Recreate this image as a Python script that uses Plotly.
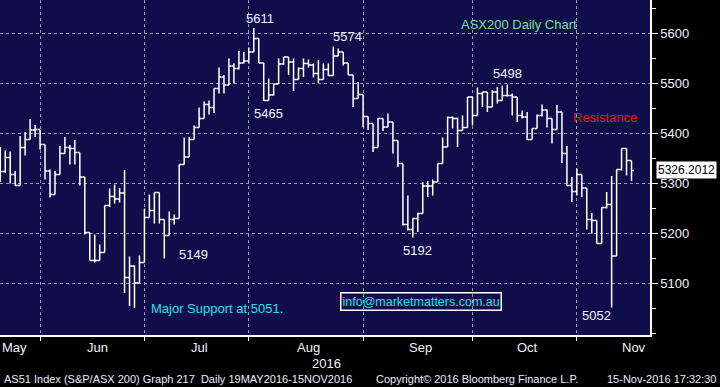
import pandas as pd
import plotly.graph_objects as go

# ---------------- data ----------------
holidays = ["2016-06-13"]
dates = [d for d in pd.bdate_range("2016-05-19", "2016-11-15") if d.strftime("%Y-%m-%d") not in holidays]

opens = [5330, 5324, 5352, 5318, 5296, 5372, 5388, 5407, 5408, 5378,
         5325, 5278, 5318, 5360, 5372, 5370, 5362, 5313, 5202, 5146,
         5146, 5162, 5256, 5274, 5269, 5281, 5112, 5135, 5101, 5142,
         5232, 5246, 5282, 5228, 5196, 5228, 5230, 5338, 5353, 5388,
         5412, 5430, 5458, 5452, 5490, 5513, 5497, 5535, 5530, 5541,
         5545, 5563, 5590, 5541, 5466, 5477, 5499, 5539, 5553, 5543,
         5508, 5530, 5540, 5537, 5520, 5508, 5528, 5516, 5555, 5563,
         5541, 5517, 5470, 5478, 5434, 5420, 5372, 5430, 5413, 5423,
         5386, 5340, 5218, 5208, 5230, 5240, 5295, 5295, 5303, 5340,
         5373, 5432, 5430, 5406, 5412, 5473, 5436, 5480, 5483, 5453,
         5483, 5466, 5476, 5476, 5473, 5436, 5433, 5388, 5410, 5436,
         5447, 5430, 5408, 5443, 5360, 5296, 5284, 5318, 5291, 5228,
         5226, 5180, 5252, 5258, 5155, 5328, 5370, 5346]
highs = [5373, 5366, 5364, 5325, 5395, 5403, 5429, 5417, 5408, 5378,
         5328, 5325, 5375, 5393, 5377, 5387, 5362, 5313, 5202, 5198,
         5178, 5256, 5290, 5298, 5291, 5327, 5154, 5136, 5156, 5250,
         5278, 5282, 5282, 5228, 5244, 5238, 5338, 5392, 5393, 5416,
         5452, 5464, 5466, 5490, 5532, 5517, 5550, 5540, 5565, 5563,
         5572, 5611, 5590, 5541, 5510, 5500, 5550, 5553, 5553, 5550,
         5532, 5550, 5548, 5540, 5547, 5540, 5540, 5574, 5570, 5563,
         5541, 5517, 5503, 5478, 5434, 5420, 5431, 5430, 5440, 5423,
         5386, 5340, 5276, 5230, 5241, 5303, 5305, 5308, 5340, 5392,
         5434, 5434, 5432, 5436, 5473, 5473, 5492, 5483, 5483, 5487,
         5493, 5496, 5498, 5480, 5473, 5446, 5443, 5410, 5438, 5458,
         5448, 5430, 5457, 5443, 5375, 5313, 5330, 5318, 5291, 5241,
         5226, 5252, 5283, 5315, 5328, 5370, 5370, 5346]
lows = [5303, 5321, 5300, 5296, 5296, 5356, 5388, 5393, 5368, 5308,
        5272, 5278, 5318, 5360, 5338, 5338, 5296, 5198, 5146, 5142,
        5146, 5162, 5253, 5260, 5262, 5081, 5055, 5051, 5101, 5142,
        5232, 5220, 5220, 5150, 5196, 5218, 5230, 5338, 5353, 5388,
        5412, 5430, 5438, 5441, 5480, 5480, 5497, 5500, 5528, 5540,
        5540, 5563, 5541, 5465, 5466, 5476, 5499, 5537, 5517, 5485,
        5508, 5513, 5532, 5512, 5501, 5508, 5515, 5516, 5555, 5536,
        5517, 5453, 5470, 5413, 5407, 5363, 5372, 5405, 5413, 5360,
        5333, 5216, 5206, 5192, 5203, 5240, 5273, 5276, 5303, 5340,
        5373, 5410, 5373, 5406, 5412, 5416, 5436, 5453, 5443, 5453,
        5460, 5466, 5474, 5436, 5423, 5430, 5387, 5388, 5410, 5434,
        5412, 5380, 5408, 5341, 5296, 5263, 5276, 5273, 5208, 5200,
        5180, 5180, 5250, 5052, 5155, 5326, 5316, 5305]
closes = [5324, 5352, 5318, 5296, 5372, 5388, 5407, 5408, 5378, 5325,
          5278, 5318, 5360, 5372, 5370, 5362, 5313, 5202, 5146, 5146,
          5162, 5256, 5274, 5269, 5281, 5112, 5135, 5101, 5142, 5232,
          5246, 5282, 5228, 5196, 5228, 5230, 5338, 5353, 5388, 5412,
          5430, 5458, 5452, 5490, 5513, 5497, 5535, 5530, 5541, 5545,
          5563, 5590, 5541, 5466, 5477, 5499, 5539, 5553, 5543, 5508,
          5530, 5540, 5537, 5520, 5508, 5528, 5516, 5555, 5563, 5541,
          5517, 5470, 5478, 5434, 5420, 5372, 5430, 5413, 5423, 5386,
          5340, 5218, 5208, 5230, 5240, 5295, 5295, 5303, 5340, 5373,
          5432, 5430, 5406, 5412, 5473, 5436, 5480, 5483, 5453, 5483,
          5466, 5476, 5476, 5473, 5436, 5433, 5388, 5410, 5436, 5447,
          5430, 5408, 5443, 5360, 5296, 5284, 5318, 5291, 5228, 5226,
          5180, 5252, 5258, 5155, 5328, 5370, 5346, 5326.2012]

ytick_vals = [5100, 5200, 5300, 5400, 5500, 5600]
month_names = ["May", "Jun", "Jul", "Aug", "Sep", "Oct", "Nov"]

# ---------------- derived ----------------
n = len(dates)
idx = list(range(n))
x0, x1 = -0.06, 130.72
y0, y1 = 4997, 5667

month_keys = [(d.year, d.month) for d in dates]
groups = {}
for i, k in enumerate(month_keys):
    groups.setdefault(k, []).append(i)
keys = sorted(groups)
grid_x = [groups[k][-1] for k in keys[:-1]]
label_x = []
for k in keys:
    first, last = groups[k][0], groups[k][-1]
    start = pd.Timestamp(k[0], k[1], 1)
    full = len(pd.bdate_range(start, start + pd.offsets.MonthEnd(0)))
    c = last - (full - 1) / 2 if first == 0 else first + (full - 1) / 2
    label_x.append(max(c, 2.9))

FONT = "Liberation Sans, Arial, sans-serif"
TXT = "#eef2ff"

fig = go.Figure()
fig.add_trace(go.Ohlc(
    x=idx, open=opens, high=highs, low=lows, close=closes,
    increasing=dict(line=dict(color="white", width=1.5)),
    decreasing=dict(line=dict(color="white", width=1.5)),
    tickwidth=0.5, text=[d.strftime("%d %b %Y") for d in dates],
    showlegend=False,
))
fig.add_trace(go.Scatter(
    x=[x1 + 0.75] * len(ytick_vals), y=ytick_vals, mode="markers",
    marker=dict(symbol="triangle-right", size=7, color="white"),
    cliponaxis=False, hoverinfo="skip", showlegend=False,
))
fig.add_trace(go.Scatter(
    x=[x1 + 0.9], y=[closes[-1]], mode="markers",
    marker=dict(symbol="triangle-left", size=9, color="white"),
    cliponaxis=False, hoverinfo="skip", showlegend=False,
))

fig.update_layout(
    width=720, height=387,
    margin=dict(l=0, r=70, t=0, b=52),
    paper_bgcolor="black", plot_bgcolor="#100e4a",
    font=dict(family=FONT, color=TXT, size=13),
    xaxis=dict(
        range=[x0, x1], rangeslider=dict(visible=False),
        tickvals=grid_x, showticklabels=False,
        ticks="outside", ticklen=4, tickcolor="white",
        showgrid=True, gridcolor="#9a98b0", griddash="3px,3px", gridwidth=1,
        showline=True, linecolor="white", linewidth=1.5, zeroline=False,
        fixedrange=True,
    ),
    yaxis=dict(
        range=[y0, y1], side="right", tickvals=ytick_vals,
        ticks="outside", ticklen=6, tickcolor="white",
        tickfont=dict(size=13, color=TXT, family=FONT),
        showgrid=True, gridcolor="#9a98b0", griddash="3px,3px", gridwidth=1,
        showline=True, linecolor="white", linewidth=1.5, zeroline=False,
        minor=dict(dtick=50, ticks="outside", ticklen=4, tickcolor="white", showgrid=False),
    ),
)

ann = []
for m, lx in zip(month_names, label_x):
    ann.append(dict(x=lx, y=0, xref="x", yref="paper", yanchor="top", yshift=-3,
                    text=m, showarrow=False, font=dict(size=13, color=TXT)))
ann.append(dict(x=0.502, y=0, xref="paper", yref="paper", yanchor="top", yshift=-19,
                text="2016", showarrow=False, font=dict(size=13, color=TXT)))

def lab(x, y, t, color=TXT, size=13, **kw):
    d = dict(x=x, y=y, xref="x", yref="y", text=t, showarrow=False,
             font=dict(size=size, color=color, family=FONT))
    d.update(kw)
    ann.append(d)

lab(52.3, 5631, "5611")
lab(53.9, 5441, "5465")
lab(69.8, 5595, "5574")
lab(104.4, 5619, "ASX200 Daily Chart", color="#7ee08a")
lab(102.0, 5520, "5498")
lab(121.7, 5433, "Resistance", color="#e8102c")
lab(38.8, 5158, "5149")
lab(83.9, 5167, "5192")
lab(29.9, 5050, "Major Support at 5051.", color="#26e0ea", xanchor="left")
lab(84.7, 5065, "info@marketmatters.com.au", color="#26e0ea", size=12.5,
    bordercolor="white", borderwidth=1.5, borderpad=1)
lab(119.9, 5037, "5052")

ann.append(dict(x=1, y=closes[-1], xref="paper", yref="y", xanchor="left", xshift=6,
                text="5326.2012", showarrow=False, bgcolor="white", borderpad=1,
                font=dict(size=12, color="black", family=FONT)))

foot = dict(size=11, color="#e6ecff", family=FONT)
fy = -0.131
ann.append(dict(x=0.003, y=fy, xref="paper", yref="paper", xanchor="left", yanchor="middle",
                text="AS51 Index (S&P/ASX 200) Graph 217  Daily 19MAY2016-15NOV2016",
                showarrow=False, font=foot))
ann.append(dict(x=0.575, y=fy, xref="paper", yref="paper", xanchor="left", yanchor="middle",
                text="Copyright\u00a9 2016 Bloomberg Finance L.P.",
                showarrow=False, font=foot))
ann.append(dict(x=1.105, y=fy, xref="paper", yref="paper", xanchor="right", yanchor="middle",
                text="15-Nov-2016 17:32:30", showarrow=False, font=foot))

fig.update_layout(annotations=ann)
fig.write_html("out.html", config={"displayModeBar": False},
               post_script="document.body.style.margin='0';document.body.style.padding='0';")
